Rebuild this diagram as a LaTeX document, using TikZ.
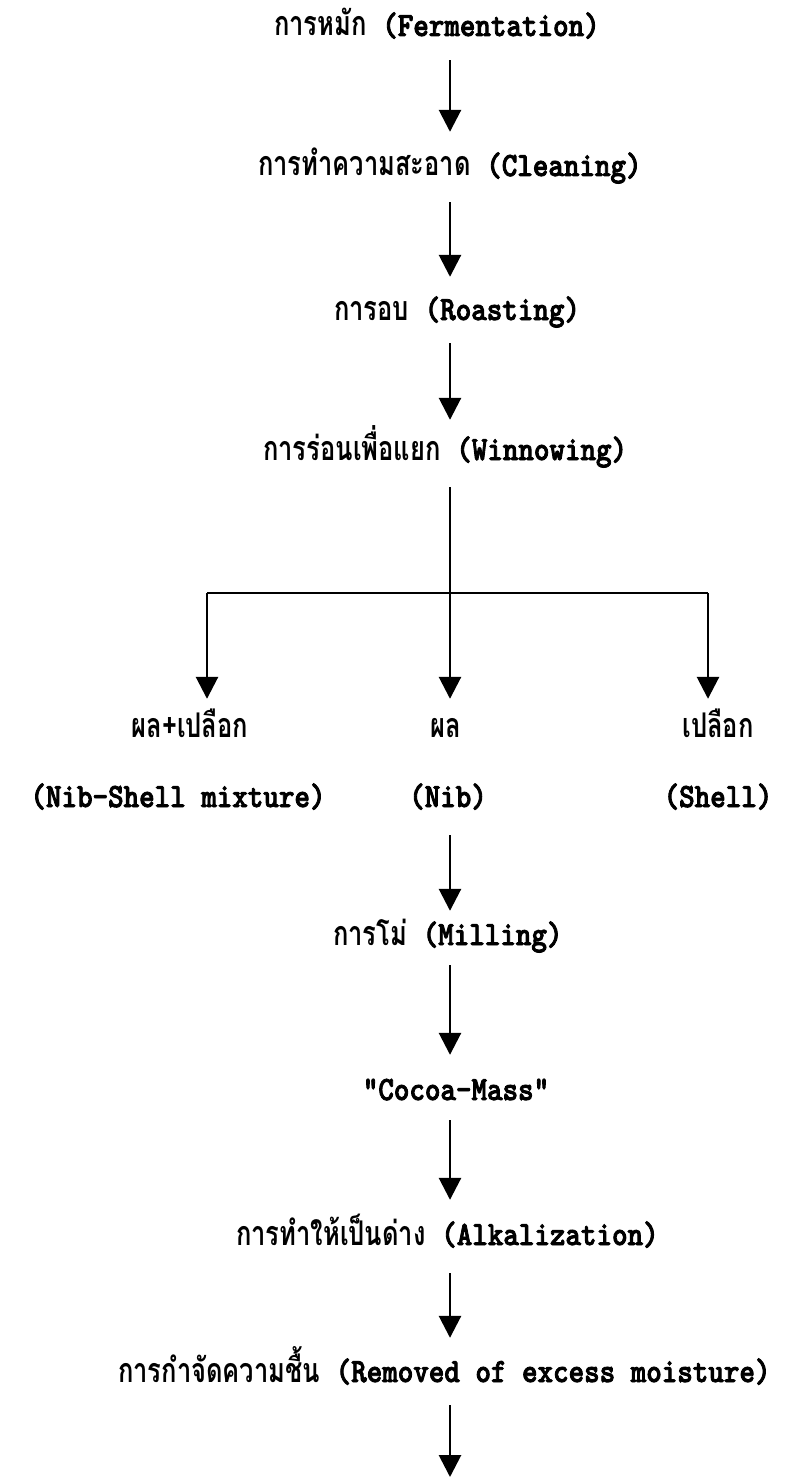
\documentclass[tikz,border=0pt]{standalone}
\usepackage{fontspec}
\usetikzlibrary{arrows.meta}
\newfontfamily\latf{lmmonolt10-bold.otf}[FakeStretch=0.87,FakeBold=2.5]
\newfontfamily\thaif{Loma}[Script=Thai,FakeStretch=0.75]
\newcommand{\T}[1]{{\thaif\bfseries\fontsize{34}{40}\selectfont #1}}
\tikzset{
  lbl/.style={inner sep=0pt, text height=20pt, text depth=6pt,
    font=\latf\fontsize{34}{40}\selectfont},
  lblw/.style={lbl, anchor=base west},
  lblc/.style={lbl, anchor=base},
  ln/.style={line width=2.8pt},
  arr/.style={line width=2.8pt, -{Triangle[width=22pt,length=22pt]}}
}
\begin{document}
\begin{tikzpicture}[x=1pt,y=-1pt]
\useasboundingbox (0,0) rectangle (794,1479);
\coordinate (ax) at (450,0);
\node[lblw] (n1) at (274,36) {\T{การหมัก} (Fermentation)};
\node[lblw] (n2) at (258,176) {\T{การทำความสะอาด} (Cleaning)};
\node[lblw] (n3) at (334,320) {\T{การอบ} (Roasting)};
\node[lblw] (n4) at (263,460) {\T{การร่อนเพื่อแยก} (Winnowing)};
\node[lblc] (b1) at (190,737) {\T{ผล+เปลือก}};
\node[lblc] (b2) at (446,737) {\T{ผล}};
\node[lblc] (b3) at (718,737) {\T{เปลือก}};
\node[lblc] (e1) at (178,807) {(Nib-Shell mixture)};
\node[lblc] (e2) at (448,807) {(Nib)};
\node[lblc] (e3) at (718,807) {(Shell)};
\node[lblw] (n7) at (333,945) {\T{การโม่} (Milling)};
\node[lblc] (n8) at (456,1100) {"Cocoa-Mass"};
\node[lblw] (n9) at (236,1245) {\T{การทำให้เป็นด่าง} (Alkalization)};
\node[lblw] (n10) at (118,1382) {\T{การกำจัดความชื้น} (Removed of excess moisture)};
\coordinate (bm) at (450,593);
\coordinate (bl) at (207,593);
\coordinate (brr) at (708,593);
\coordinate (fin) at (450,1477);
\draw[arr, shorten <=18pt, shorten >=24pt] (n1.south -| ax) -- (n2.north -| ax);
\draw[arr, shorten <=20pt, shorten >=23pt] (n2.south -| ax) -- (n3.north -| ax);
\draw[arr, shorten <=17pt, shorten >=20pt] (n3.south -| ax) -- (n4.north -| ax);
\draw[ln, shorten <=21pt] (n4.south -| ax) -- (bm);
\draw[ln] (bl) -- (brr);
\draw[arr, shorten >=18pt] (bl) -- (b1.north -| bl);
\draw[arr, shorten >=18pt] (bm) -- (b2.north -| bm);
\draw[arr, shorten >=18pt] (brr) -- (b3.north -| brr);
\draw[arr, shorten <=22pt, shorten >=14pt] (e2.south -| ax) -- (n7.north -| ax);
\draw[arr, shorten <=14pt, shorten >=25pt] (n7.south -| ax) -- (n8.north -| ax);
\draw[arr, shorten <=14pt, shorten >=25pt] (n8.south -| ax) -- (n9.north -| ax);
\draw[arr, shorten <=22pt, shorten >=24pt] (n9.south -| ax) -- (n10.north -| ax);
\draw[arr, shorten <=17pt] (n10.south -| ax) -- (fin);
\end{tikzpicture}
\end{document}
